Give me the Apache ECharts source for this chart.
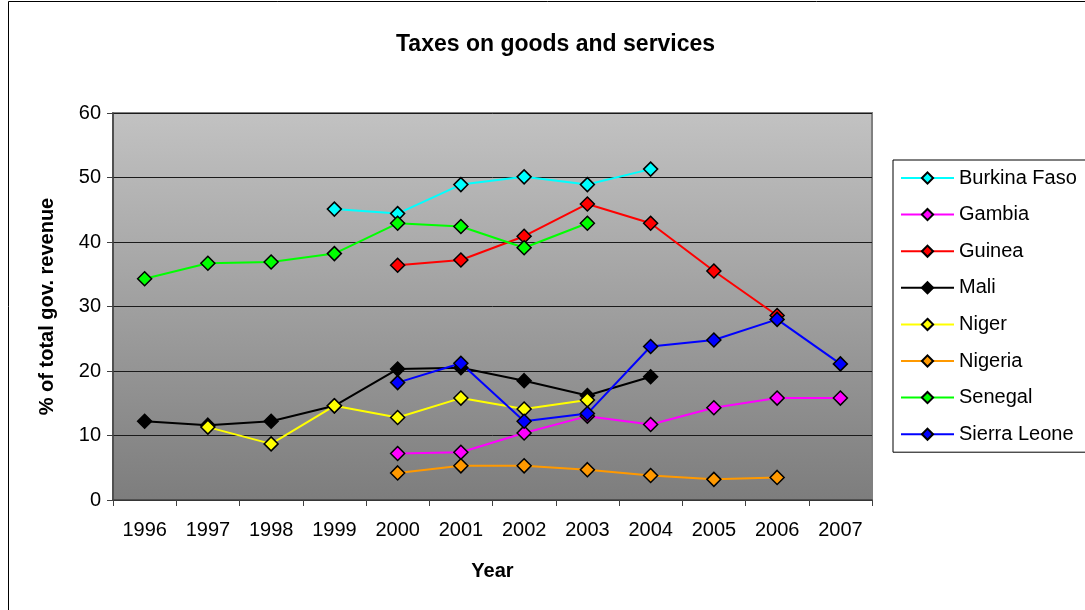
<!DOCTYPE html>
<html>
<head>
<meta charset="utf-8">
<script src="https://cdn.jsdelivr.net/npm/echarts@6/dist/echarts.min.js"></script>
<style>
  html, body { margin: 0; padding: 0; background: #fff; }
  #chart { width: 1085px; height: 610px; }
</style>
</head>
<body>
<div id="chart"></div>
<script>
// years on the x axis
const years = ['1996', '1997', '1998', '1999', '2000', '2001', '2002', '2003', '2004', '2005', '2006', '2007'];

// % of total gov. revenue (null = no data)
const burkinaFaso = [null, null, null, 45.1, 44.4, 48.9, 50.1, 48.9, 51.3, null, null, null];
const gambia      = [null, null, null, null, 7.2, 7.4, 10.4, 13.0, 11.7, 14.3, 15.8, 15.8];
const guinea      = [null, null, null, null, 36.4, 37.2, 40.9, 45.9, 42.9, 35.5, 28.6, null];
const mali        = [12.2, 11.6, 12.2, 14.6, 20.3, 20.5, 18.5, 16.2, 19.1, null, null, null];
const niger       = [null, 11.3, 8.7, 14.6, 12.8, 15.8, 14.1, 15.5, null, null, null, null];
const nigeria     = [null, null, null, null, 4.2, 5.3, 5.3, 4.7, 3.8, 3.2, 3.5, null];
const senegal     = [34.3, 36.7, 36.9, 38.2, 42.9, 42.4, 39.1, 42.9, null, null, null, null];
const sierraLeone = [null, null, null, null, 18.2, 21.2, 12.2, 13.4, 23.8, 24.8, 28.0, 21.1];

const yTicks = { min: 0, max: 60, interval: 10 };

const countries = [
  ['Burkina Faso', burkinaFaso, '#00ffff'],
  ['Gambia', gambia, '#ff00ff'],
  ['Guinea', guinea, '#ff0000'],
  ['Mali', mali, '#000000'],
  ['Niger', niger, '#ffff00'],
  ['Nigeria', nigeria, '#ff9900'],
  ['Senegal', senegal, '#00ff00'],
  ['Sierra Leone', sierraLeone, '#0000ff']
];

const font = 'Arial, "Liberation Sans", sans-serif';

const chart = echarts.init(document.getElementById('chart'), null, { renderer: 'canvas' });

chart.setOption({
  animation: false,
  textStyle: { fontFamily: font },
  title: {
    text: 'Taxes on goods and services',
    left: 391,
    top: 28,
    textStyle: { fontSize: 23, fontWeight: 'bold', color: '#000', fontFamily: font }
  },
  graphic: [{
    type: 'rect',
    shape: { x: 8.5, y: 1.5, width: 1200, height: 800 },
    style: { fill: 'none', stroke: '#000', lineWidth: 1 },
    z: -10
  }],
  legend: {
    orient: 'vertical',
    left: 893,
    top: 160,
    padding: [8, 20, 8, 7],
    itemWidth: 53,
    itemHeight: 14,
    itemGap: 16.6,
    borderColor: '#000',
    borderWidth: 1,
    textStyle: { fontSize: 20, color: '#000', fontFamily: font },
    data: countries.map(c => c[0])
  },
  grid: {
    left: 113,
    top: 113,
    right: 213,
    bottom: 110,
    show: true,
    borderColor: '#808080',
    borderWidth: 2,
    backgroundColor: new echarts.graphic.LinearGradient(0, 0, 0, 1, [
      { offset: 0, color: '#c2c2c2' },
      { offset: 1, color: '#7d7d7d' }
    ])
  },
  xAxis: {
    type: 'category',
    data: years,
    boundaryGap: true,
    name: 'Year',
    nameLocation: 'middle',
    nameGap: 61,
    nameTextStyle: { fontSize: 20, fontWeight: 'bold', color: '#000', fontFamily: font },
    axisLine: { lineStyle: { color: '#404040', width: 1.5 } },
    axisTick: { show: true, alignWithLabel: false, length: 6, lineStyle: { color: '#404040' } },
    axisLabel: { fontSize: 20, color: '#000', margin: 20, fontFamily: font },
    splitLine: { show: false }
  },
  yAxis: {
    type: 'value',
    min: yTicks.min,
    max: yTicks.max,
    interval: yTicks.interval,
    name: '% of total gov. revenue',
    nameLocation: 'middle',
    nameGap: 56,
    nameTextStyle: { fontSize: 20, fontWeight: 'bold', color: '#000', fontFamily: font },
    axisLine: { show: true, lineStyle: { color: '#404040', width: 1.5 } },
    axisTick: { show: true, length: 6, lineStyle: { color: '#404040' } },
    axisLabel: { fontSize: 20, color: '#000', margin: 12, fontFamily: font },
    splitLine: { show: true, lineStyle: { color: '#1a1a1a', width: 1 } }
  },
  series: countries.map(([name, values, color]) => ({
    name: name,
    type: 'line',
    data: values,
    connectNulls: false,
    symbol: 'diamond',
    symbolSize: 14,
    showAllSymbol: true,
    lineStyle: { color: color, width: 2 },
    itemStyle: { color: color, borderColor: '#000', borderWidth: 1.5 },
    emphasis: { disabled: true }
  }))
});
</script>
</body>
</html>
